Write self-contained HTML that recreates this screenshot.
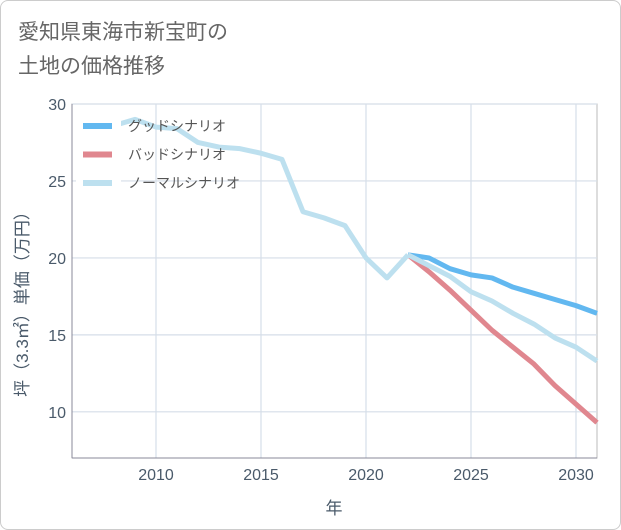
<!DOCTYPE html>
<html><head><meta charset="utf-8"><style>
body{margin:0;background:#fff;}
#wrap{position:relative;width:619px;height:528px;border:1px solid #ccc;border-radius:8px;overflow:hidden;font-family:"Liberation Sans","Noto Sans CJK JP",sans-serif;}
.title{position:absolute;left:17px;top:15px;font-size:21px;line-height:34px;color:#666;}
</style></head><body>
<div id="wrap">
<div class="title">愛知県東海市新宝町の<br>土地の価格推移</div>
<svg id="chart" width="621" height="530" style="position:absolute;left:-1px;top:-1px"></svg>
</div>
<script>
const years=[2008,2009,2010,2011,2012,2013,2014,2015,2016,2017,2018,2019,2020,2021,2022];
const histValues=[28.6,29.0,28.5,28.4,27.5,27.2,27.1,26.8,26.4,23.0,22.6,22.1,20.0,18.7,20.2];
const futureYears=[2022,2023,2024,2025,2026,2027,2028,2029,2030,2031];
const goodValues=[20.2,20.0,19.3,18.9,18.7,18.1,17.7,17.3,16.9,16.4];
const normalValues=[20.2,19.5,18.8,17.8,17.2,16.4,15.7,14.8,14.2,13.3];
const badValues=[20.2,19.1,17.9,16.6,15.3,14.2,13.1,11.7,10.5,9.3];
const xTicks=[2010,2015,2020,2025,2030];
const yTicks=[10,15,20,25,30];
const legendLabels=["グッドシナリオ","バッドシナリオ","ノーマルシナリオ"];

const NS="http://www.w3.org/2000/svg";
const svg=document.getElementById('chart');
const L=72,R=597,T=104,B=458,X0=2006,X1=2031,Y0=7,Y1=30;
const sx=v=>L+(v-X0)/(X1-X0)*(R-L);
const sy=v=>B-(v-Y0)/(Y1-Y0)*(B-T);
function mk(tag,attrs,parent){const e=document.createElementNS(NS,tag);for(const k in attrs)e.setAttribute(k,attrs[k]);(parent||svg).appendChild(e);return e;}

const bg=mk('rect',{x:L,y:T,width:R-L,height:B-T,fill:'#fff',stroke:'#bbb'});


xTicks.forEach(t=>{
  const g=mk('line',{x1:sx(t),x2:sx(t),y1:T,y2:B,stroke:'#d5dee8','stroke-width':1.2});
  
  
  const tx=mk('text',{x:sx(t),y:480,'text-anchor':'middle','font-size':16,fill:'#4a5a6a'});
  tx.textContent=t;
  
  
});
yTicks.forEach(t=>{
  const g=mk('line',{x1:L,x2:R,y1:sy(t),y2:sy(t),stroke:'#d5dee8','stroke-width':1.2});
  
  
  const tx=mk('text',{x:66,y:sy(t)+6,'text-anchor':'end','font-size':16,fill:'#4a5a6a'});
  tx.textContent=t;
  
  
});
mk('line',{x1:L,x2:R,y1:B,y2:B,stroke:'#889'});
mk('line',{x1:L,x2:L,y1:T,y2:B,stroke:'#889'});

function line(xs,ys,color,name){
  const p=mk('polyline',{points:xs.map((x,i)=>sx(x)+','+sy(ys[i])).join(' '),fill:'none',stroke:color,'stroke-width':5,'stroke-linejoin':'round'});
  
  
}
line(futureYears,badValues,'#e0878f','bad-scenario-line');
line(futureYears,goodValues,'#62b8f0','good-scenario-line');
line(futureYears,normalValues,'#bde0ef','normal-scenario-line');
line(years,histValues,'#bde0ef','historical-line');

const lb=mk('rect',{x:76,y:112,width:45,height:84,fill:'#fff'});
const colors=['#62b8f0','#e0878f','#bde0ef'];
legendLabels.forEach((s,i)=>{
  const y=126+i*28.5;
  const ln=mk('line',{x1:83,x2:112,y1:y,y2:y,stroke:colors[i],'stroke-width':6});
  
  
  const t=mk('text',{x:128,y:y+5,'font-size':14,fill:'#555'});
  t.textContent=s;
  
  
});
const xt=mk('text',{x:334,y:514,'text-anchor':'middle','font-size':17,fill:'#4a5a6a'});
xt.textContent='年';


const yt=mk('text',{x:0,y:0,'text-anchor':'middle','font-size':17,fill:'#4a5a6a',transform:'translate(28,300) rotate(-90)'});
yt.textContent='坪（3.3㎡）単価（万円）';


</script>
</body></html>
